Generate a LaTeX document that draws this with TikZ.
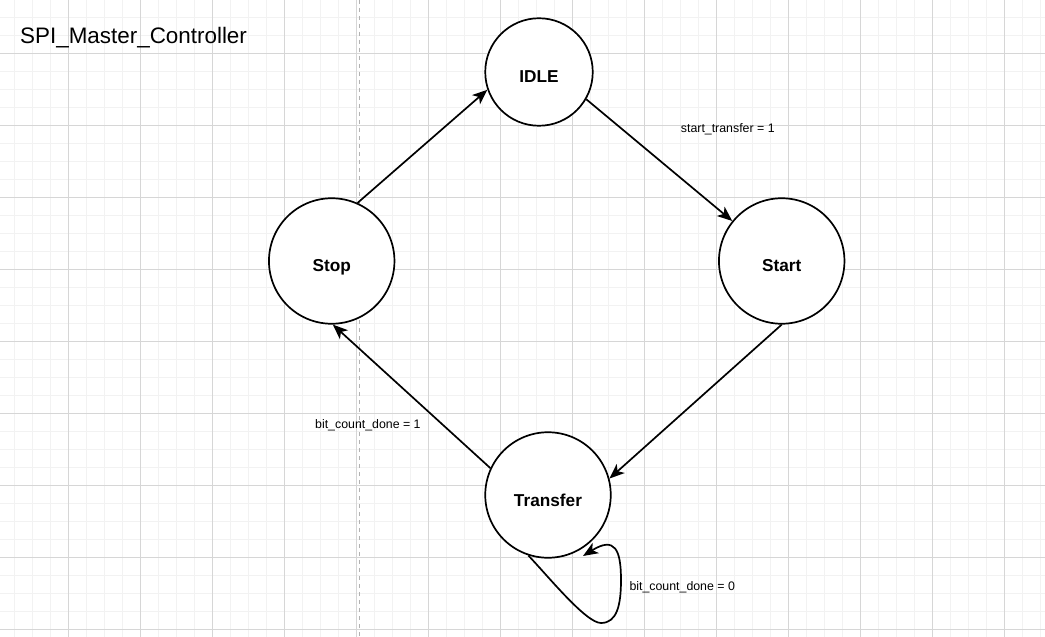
\documentclass[tikz,border=0pt]{standalone}
\usepackage{fontspec}
\setmainfont{Liberation Sans}
\usetikzlibrary{arrows.meta}
\begin{document}
\begin{tikzpicture}[x=1bp,y=-1bp,
  minorgrid/.style={draw=black!5, line width=0.8bp},
  majorgrid/.style={draw=black!16, line width=0.8bp},
  pageline/.style={draw=black!30, line width=1bp, dash pattern=on 4bp off 4bp},
  state/.style={circle, draw=black, line width=1.7bp, fill=white, inner sep=0pt,
    text height=22bp, text depth=0pt, font=\fontsize{17.3}{20}\selectfont\bfseries},
  bigstate/.style={state, minimum size=125.5bp},
  smallstate/.style={state, minimum size=107.5bp},
  trans/.style={draw=black, line width=1.7bp, -{Stealth[length=15bp,width=12bp,inset=4bp]}},
  elabel/.style={inner sep=0pt, anchor=base west, font=\fontsize{12.4}{14}\selectfont},
  titlelabel/.style={inner sep=0pt, anchor=base west, font=\fontsize{22.5}{26}\selectfont},
]
\useasboundingbox (0,0) rectangle (1045,637);
\fill[white] (0,0) rectangle (1045,637);
% grid
\foreach \x in {14,32,...,1044} \draw[minorgrid] (\x,0) -- (\x,637);
\foreach \y in {17,35,...,636} \draw[minorgrid] (0,\y) -- (1045,\y);
\foreach \x in {68,140,...,1044} \draw[majorgrid] (\x,0) -- (\x,637);
\foreach \y in {53,125,...,636} \draw[majorgrid] (0,\y) -- (1045,\y);
\draw[pageline] (359,0) -- (359,637);

% title
\node[titlelabel] (title) at (20,43.3) {SPI\_Master\_Controller};

% states
\node[smallstate] (idle) at (539,72) {IDLE};
\node[bigstate] (stop) at (331.7,261) {Stop};
\node[bigstate] (start) at (781.7,261) {Start};
\node[bigstate] (tr) at (548,495) {Transfer};

% transitions
\draw[trans] (stop.66) -- (idle.-161);
\draw[trans] (idle.-30) -- (start.141);
\draw[trans] (start.-90) -- (tr.15);
\draw[trans] (tr.155) -- (stop.-89);
\coordinate (loopbot) at (601,623);
\coordinate (loopright) at (621,580);
\draw[trans] (tr.-108) .. controls +(20,21) and +(-15,0) .. (loopbot)
  .. controls +(16,0) and +(0,25) .. (loopright)
  .. controls +(0,-30) and +(32,-20) .. ([shift={(35,61)}]tr.center);

% labels
\node[elabel] (l1) at (680.7,132.5) {start\_transfer = 1};
\node[elabel] (l2) at (315,428.7) {bit\_count\_done = 1};
\node[elabel] (l3) at (629.3,590.7) {bit\_count\_done = 0};
\end{tikzpicture}
\end{document}
